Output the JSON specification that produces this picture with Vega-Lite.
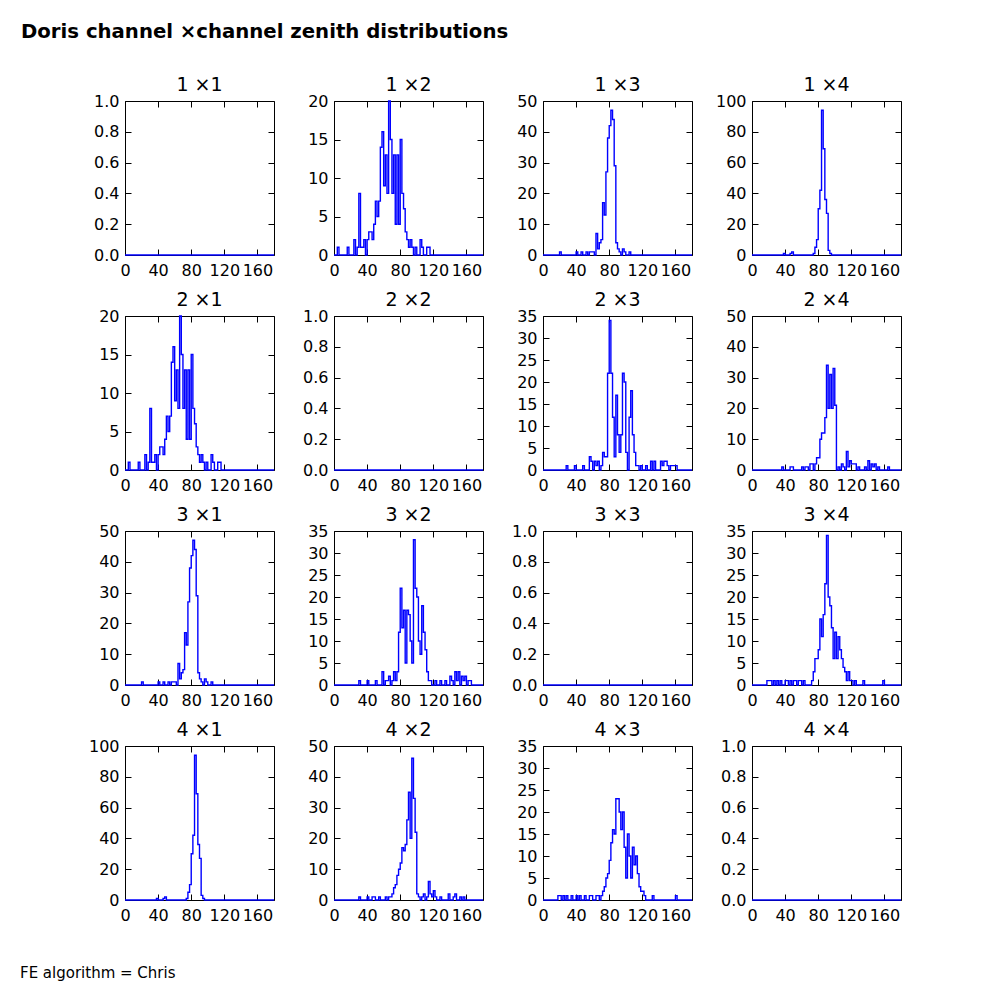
{
"$schema": "https://vega.github.io/schema/vega-lite/v6.json",
"padding": {"left": 20, "top": 22, "right": 10, "bottom": 10},
"title": {"text": "Doris channel ×channel zenith distributions", "anchor": "start", "frame": "group", "fontSize": 19.7, "fontWeight": "bold", "dx": -104, "offset": 34},
"datasets": {"h": [
{"p":"e","x":0,"y":0},{"p":"e","x":180,"y":0},
{"p":"12","x":0,"y":0},{"p":"12","x":4,"y":1},{"p":"12","x":6,"y":0},{"p":"12","x":16,"y":1},{"p":"12","x":18,"y":0},{"p":"12","x":24,"y":2},{"p":"12","x":26,"y":0},{"p":"12","x":28,"y":1},{"p":"12","x":30,"y":8},{"p":"12","x":32,"y":1},{"p":"12","x":34,"y":1},{"p":"12","x":36,"y":2},{"p":"12","x":38,"y":0},{"p":"12","x":40,"y":2},{"p":"12","x":42,"y":3},{"p":"12","x":44,"y":3},{"p":"12","x":46,"y":2},{"p":"12","x":48,"y":4},{"p":"12","x":50,"y":7},{"p":"12","x":52,"y":5},{"p":"12","x":54,"y":7},{"p":"12","x":56,"y":14},{"p":"12","x":58,"y":16},{"p":"12","x":60,"y":9},{"p":"12","x":62,"y":13},{"p":"12","x":64,"y":8},{"p":"12","x":66,"y":20},{"p":"12","x":68,"y":15},{"p":"12","x":70,"y":8},{"p":"12","x":72,"y":13},{"p":"12","x":74,"y":4},{"p":"12","x":76,"y":13},{"p":"12","x":78,"y":4},{"p":"12","x":80,"y":15},{"p":"12","x":82,"y":8},{"p":"12","x":84,"y":6},{"p":"12","x":86,"y":3},{"p":"12","x":88,"y":2},{"p":"12","x":90,"y":1},{"p":"12","x":92,"y":2},{"p":"12","x":94,"y":1},{"p":"12","x":96,"y":0},{"p":"12","x":98,"y":1},{"p":"12","x":100,"y":0},{"p":"12","x":104,"y":2},{"p":"12","x":106,"y":1},{"p":"12","x":108,"y":0},{"p":"12","x":112,"y":1},{"p":"12","x":114,"y":1},{"p":"12","x":116,"y":0},{"p":"12","x":180,"y":0},
{"p":"13","x":0,"y":0},{"p":"13","x":20,"y":1},{"p":"13","x":22,"y":0},{"p":"13","x":40,"y":1},{"p":"13","x":42,"y":0},{"p":"13","x":46,"y":1},{"p":"13","x":48,"y":0},{"p":"13","x":52,"y":1},{"p":"13","x":54,"y":0},{"p":"13","x":56,"y":1},{"p":"13","x":58,"y":1},{"p":"13","x":60,"y":1},{"p":"13","x":62,"y":0},{"p":"13","x":64,"y":7},{"p":"13","x":66,"y":2},{"p":"13","x":68,"y":4},{"p":"13","x":70,"y":5},{"p":"13","x":72,"y":17},{"p":"13","x":74,"y":13},{"p":"13","x":76,"y":27},{"p":"13","x":78,"y":38},{"p":"13","x":80,"y":42},{"p":"13","x":82,"y":47},{"p":"13","x":84,"y":44},{"p":"13","x":86,"y":29},{"p":"13","x":88,"y":4},{"p":"13","x":90,"y":2},{"p":"13","x":92,"y":1},{"p":"13","x":94,"y":0},{"p":"13","x":96,"y":2},{"p":"13","x":98,"y":1},{"p":"13","x":100,"y":0},{"p":"13","x":104,"y":1},{"p":"13","x":106,"y":0},{"p":"13","x":180,"y":0},
{"p":"14","x":0,"y":0},{"p":"14","x":38,"y":1},{"p":"14","x":40,"y":0},{"p":"14","x":46,"y":1},{"p":"14","x":48,"y":2},{"p":"14","x":50,"y":0},{"p":"14","x":74,"y":1},{"p":"14","x":76,"y":5},{"p":"14","x":78,"y":10},{"p":"14","x":80,"y":30},{"p":"14","x":82,"y":42},{"p":"14","x":84,"y":94},{"p":"14","x":86,"y":69},{"p":"14","x":88,"y":36},{"p":"14","x":90,"y":27},{"p":"14","x":92,"y":3},{"p":"14","x":94,"y":1},{"p":"14","x":96,"y":0},{"p":"14","x":180,"y":0},
{"p":"23","x":0,"y":0},{"p":"23","x":28,"y":1},{"p":"23","x":30,"y":0},{"p":"23","x":38,"y":1},{"p":"23","x":40,"y":0},{"p":"23","x":48,"y":1},{"p":"23","x":50,"y":0},{"p":"23","x":56,"y":3},{"p":"23","x":58,"y":2},{"p":"23","x":60,"y":0},{"p":"23","x":62,"y":2},{"p":"23","x":64,"y":1},{"p":"23","x":66,"y":2},{"p":"23","x":68,"y":0},{"p":"23","x":70,"y":1},{"p":"23","x":72,"y":4},{"p":"23","x":74,"y":3},{"p":"23","x":76,"y":3},{"p":"23","x":78,"y":22},{"p":"23","x":80,"y":34},{"p":"23","x":82,"y":22},{"p":"23","x":84,"y":12},{"p":"23","x":86,"y":3},{"p":"23","x":88,"y":17},{"p":"23","x":90,"y":8},{"p":"23","x":92,"y":4},{"p":"23","x":94,"y":8},{"p":"23","x":96,"y":22},{"p":"23","x":98,"y":20},{"p":"23","x":100,"y":4},{"p":"23","x":102,"y":0},{"p":"23","x":104,"y":12},{"p":"23","x":106,"y":18},{"p":"23","x":108,"y":8},{"p":"23","x":110,"y":4},{"p":"23","x":112,"y":1},{"p":"23","x":114,"y":1},{"p":"23","x":116,"y":0},{"p":"23","x":118,"y":1},{"p":"23","x":120,"y":0},{"p":"23","x":124,"y":1},{"p":"23","x":126,"y":0},{"p":"23","x":130,"y":2},{"p":"23","x":132,"y":0},{"p":"23","x":134,"y":2},{"p":"23","x":136,"y":0},{"p":"23","x":142,"y":2},{"p":"23","x":144,"y":1},{"p":"23","x":146,"y":2},{"p":"23","x":148,"y":2},{"p":"23","x":150,"y":1},{"p":"23","x":152,"y":0},{"p":"23","x":154,"y":1},{"p":"23","x":156,"y":1},{"p":"23","x":158,"y":1},{"p":"23","x":160,"y":1},{"p":"23","x":162,"y":0},{"p":"23","x":180,"y":0},
{"p":"32","x":0,"y":0},{"p":"32","x":30,"y":1},{"p":"32","x":32,"y":0},{"p":"32","x":40,"y":1},{"p":"32","x":42,"y":0},{"p":"32","x":50,"y":1},{"p":"32","x":52,"y":0},{"p":"32","x":58,"y":3},{"p":"32","x":60,"y":0},{"p":"32","x":62,"y":1},{"p":"32","x":64,"y":1},{"p":"32","x":66,"y":2},{"p":"32","x":68,"y":0},{"p":"32","x":70,"y":1},{"p":"32","x":72,"y":3},{"p":"32","x":74,"y":1},{"p":"32","x":76,"y":3},{"p":"32","x":78,"y":12},{"p":"32","x":80,"y":22},{"p":"32","x":82,"y":13},{"p":"32","x":84,"y":17},{"p":"32","x":86,"y":5},{"p":"32","x":88,"y":17},{"p":"32","x":90,"y":16},{"p":"32","x":92,"y":10},{"p":"32","x":94,"y":5},{"p":"32","x":96,"y":33},{"p":"32","x":98,"y":22},{"p":"32","x":100,"y":20},{"p":"32","x":102,"y":10},{"p":"32","x":104,"y":7},{"p":"32","x":106,"y":18},{"p":"32","x":108,"y":12},{"p":"32","x":110,"y":8},{"p":"32","x":112,"y":3},{"p":"32","x":114,"y":1},{"p":"32","x":116,"y":1},{"p":"32","x":118,"y":0},{"p":"32","x":122,"y":1},{"p":"32","x":124,"y":0},{"p":"32","x":128,"y":1},{"p":"32","x":130,"y":0},{"p":"32","x":134,"y":1},{"p":"32","x":136,"y":0},{"p":"32","x":140,"y":2},{"p":"32","x":142,"y":1},{"p":"32","x":144,"y":0},{"p":"32","x":146,"y":3},{"p":"32","x":148,"y":1},{"p":"32","x":150,"y":3},{"p":"32","x":152,"y":0},{"p":"32","x":154,"y":2},{"p":"32","x":156,"y":1},{"p":"32","x":158,"y":2},{"p":"32","x":160,"y":0},{"p":"32","x":162,"y":1},{"p":"32","x":164,"y":1},{"p":"32","x":166,"y":0},{"p":"32","x":180,"y":0},
{"p":"24","x":0,"y":0},{"p":"24","x":36,"y":1},{"p":"24","x":38,"y":0},{"p":"24","x":46,"y":1},{"p":"24","x":48,"y":1},{"p":"24","x":50,"y":0},{"p":"24","x":60,"y":1},{"p":"24","x":62,"y":0},{"p":"24","x":64,"y":1},{"p":"24","x":66,"y":1},{"p":"24","x":68,"y":0},{"p":"24","x":70,"y":2},{"p":"24","x":72,"y":2},{"p":"24","x":74,"y":0},{"p":"24","x":76,"y":2},{"p":"24","x":78,"y":4},{"p":"24","x":80,"y":4},{"p":"24","x":82,"y":10},{"p":"24","x":84,"y":12},{"p":"24","x":86,"y":12},{"p":"24","x":88,"y":17},{"p":"24","x":90,"y":34},{"p":"24","x":92,"y":20},{"p":"24","x":94,"y":31},{"p":"24","x":96,"y":20},{"p":"24","x":98,"y":33},{"p":"24","x":100,"y":21},{"p":"24","x":102,"y":0},{"p":"24","x":104,"y":1},{"p":"24","x":106,"y":0},{"p":"24","x":108,"y":2},{"p":"24","x":110,"y":1},{"p":"24","x":112,"y":0},{"p":"24","x":114,"y":6},{"p":"24","x":116,"y":1},{"p":"24","x":118,"y":3},{"p":"24","x":120,"y":2},{"p":"24","x":122,"y":2},{"p":"24","x":124,"y":2},{"p":"24","x":126,"y":0},{"p":"24","x":128,"y":1},{"p":"24","x":130,"y":0},{"p":"24","x":136,"y":1},{"p":"24","x":138,"y":0},{"p":"24","x":140,"y":3},{"p":"24","x":142,"y":0},{"p":"24","x":144,"y":2},{"p":"24","x":146,"y":1},{"p":"24","x":148,"y":2},{"p":"24","x":150,"y":0},{"p":"24","x":152,"y":1},{"p":"24","x":154,"y":0},{"p":"24","x":164,"y":1},{"p":"24","x":166,"y":0},{"p":"24","x":180,"y":0},
{"p":"42","x":0,"y":0},{"p":"42","x":30,"y":1},{"p":"42","x":32,"y":0},{"p":"42","x":40,"y":1},{"p":"42","x":42,"y":0},{"p":"42","x":46,"y":1},{"p":"42","x":48,"y":1},{"p":"42","x":50,"y":0},{"p":"42","x":54,"y":1},{"p":"42","x":56,"y":0},{"p":"42","x":62,"y":1},{"p":"42","x":64,"y":0},{"p":"42","x":66,"y":1},{"p":"42","x":68,"y":1},{"p":"42","x":70,"y":2},{"p":"42","x":72,"y":4},{"p":"42","x":74,"y":5},{"p":"42","x":76,"y":8},{"p":"42","x":78,"y":10},{"p":"42","x":80,"y":12},{"p":"42","x":82,"y":17},{"p":"42","x":84,"y":16},{"p":"42","x":86,"y":18},{"p":"42","x":88,"y":26},{"p":"42","x":90,"y":35},{"p":"42","x":92,"y":20},{"p":"42","x":94,"y":46},{"p":"42","x":96,"y":33},{"p":"42","x":98,"y":22},{"p":"42","x":100,"y":2},{"p":"42","x":102,"y":1},{"p":"42","x":104,"y":0},{"p":"42","x":106,"y":1},{"p":"42","x":108,"y":2},{"p":"42","x":110,"y":0},{"p":"42","x":112,"y":1},{"p":"42","x":114,"y":6},{"p":"42","x":116,"y":2},{"p":"42","x":118,"y":1},{"p":"42","x":120,"y":3},{"p":"42","x":122,"y":1},{"p":"42","x":124,"y":0},{"p":"42","x":128,"y":1},{"p":"42","x":130,"y":0},{"p":"42","x":138,"y":2},{"p":"42","x":140,"y":0},{"p":"42","x":144,"y":1},{"p":"42","x":146,"y":2},{"p":"42","x":148,"y":0},{"p":"42","x":152,"y":1},{"p":"42","x":154,"y":0},{"p":"42","x":156,"y":1},{"p":"42","x":158,"y":0},{"p":"42","x":180,"y":0},
{"p":"34","x":0,"y":0},{"p":"34","x":18,"y":1},{"p":"34","x":20,"y":1},{"p":"34","x":22,"y":1},{"p":"34","x":24,"y":0},{"p":"34","x":26,"y":1},{"p":"34","x":28,"y":0},{"p":"34","x":30,"y":1},{"p":"34","x":32,"y":0},{"p":"34","x":34,"y":1},{"p":"34","x":36,"y":0},{"p":"34","x":40,"y":1},{"p":"34","x":42,"y":1},{"p":"34","x":44,"y":0},{"p":"34","x":46,"y":1},{"p":"34","x":48,"y":0},{"p":"34","x":50,"y":1},{"p":"34","x":52,"y":1},{"p":"34","x":54,"y":0},{"p":"34","x":56,"y":1},{"p":"34","x":58,"y":1},{"p":"34","x":60,"y":0},{"p":"34","x":62,"y":1},{"p":"34","x":64,"y":0},{"p":"34","x":72,"y":1},{"p":"34","x":74,"y":3},{"p":"34","x":76,"y":6},{"p":"34","x":78,"y":6},{"p":"34","x":80,"y":8},{"p":"34","x":82,"y":15},{"p":"34","x":84,"y":11},{"p":"34","x":86,"y":16},{"p":"34","x":88,"y":23},{"p":"34","x":90,"y":34},{"p":"34","x":92,"y":20},{"p":"34","x":94,"y":18},{"p":"34","x":96,"y":13},{"p":"34","x":98,"y":6},{"p":"34","x":100,"y":12},{"p":"34","x":102,"y":6},{"p":"34","x":104,"y":11},{"p":"34","x":106,"y":8},{"p":"34","x":108,"y":6},{"p":"34","x":110,"y":4},{"p":"34","x":112,"y":3},{"p":"34","x":114,"y":1},{"p":"34","x":116,"y":3},{"p":"34","x":118,"y":1},{"p":"34","x":120,"y":1},{"p":"34","x":122,"y":0},{"p":"34","x":124,"y":1},{"p":"34","x":126,"y":0},{"p":"34","x":134,"y":1},{"p":"34","x":136,"y":0},{"p":"34","x":158,"y":1},{"p":"34","x":160,"y":0},{"p":"34","x":180,"y":0},
{"p":"43","x":0,"y":0},{"p":"43","x":18,"y":1},{"p":"43","x":20,"y":1},{"p":"43","x":22,"y":0},{"p":"43","x":24,"y":1},{"p":"43","x":26,"y":0},{"p":"43","x":28,"y":1},{"p":"43","x":30,"y":0},{"p":"43","x":34,"y":1},{"p":"43","x":36,"y":0},{"p":"43","x":40,"y":1},{"p":"43","x":42,"y":0},{"p":"43","x":44,"y":1},{"p":"43","x":46,"y":0},{"p":"43","x":50,"y":1},{"p":"43","x":52,"y":0},{"p":"43","x":56,"y":1},{"p":"43","x":58,"y":1},{"p":"43","x":60,"y":0},{"p":"43","x":64,"y":1},{"p":"43","x":66,"y":1},{"p":"43","x":68,"y":0},{"p":"43","x":70,"y":1},{"p":"43","x":72,"y":2},{"p":"43","x":74,"y":3},{"p":"43","x":76,"y":5},{"p":"43","x":78,"y":6},{"p":"43","x":80,"y":9},{"p":"43","x":82,"y":13},{"p":"43","x":84,"y":16},{"p":"43","x":86,"y":15},{"p":"43","x":88,"y":23},{"p":"43","x":90,"y":23},{"p":"43","x":92,"y":20},{"p":"43","x":94,"y":16},{"p":"43","x":96,"y":20},{"p":"43","x":98,"y":12},{"p":"43","x":100,"y":5},{"p":"43","x":102,"y":15},{"p":"43","x":104,"y":10},{"p":"43","x":106,"y":5},{"p":"43","x":108,"y":12},{"p":"43","x":110,"y":8},{"p":"43","x":112,"y":10},{"p":"43","x":114,"y":6},{"p":"43","x":116,"y":3},{"p":"43","x":118,"y":2},{"p":"43","x":120,"y":2},{"p":"43","x":122,"y":1},{"p":"43","x":124,"y":0},{"p":"43","x":132,"y":1},{"p":"43","x":134,"y":0},{"p":"43","x":160,"y":1},{"p":"43","x":162,"y":0},{"p":"43","x":180,"y":0}
]},
"data": {"name": "h"},
"vconcat": [{
"title": {"text": "FE algorithm = Chris", "orient": "bottom", "anchor": "start", "frame": "group", "fontSize": 15, "fontWeight": "normal", "dx": -105, "offset": 43},
"columns": 4,
"spacing": {"row": 61, "column": 60},
"bounds": "flush",
"concat": [
{"title": "1  ×1", "width": 149, "height": 154, "transform": [{"filter": "datum.p==='e'"}], "layer": [
 {"mark": "line", "encoding": {"x": {"field": "x", "type": "quantitative", "scale": {"domain": [0,180], "nice": false}, "axis": {"values": [0,40,80,120,160], "title": null}}, "y": {"field": "y", "type": "quantitative", "scale": {"domain": [0,1], "nice": false}, "axis": {"title": null, "format": ".1f"}}}},
 {"mark": {"type": "line", "opacity": 0}, "encoding": {"x": {"field": "x", "type": "quantitative", "scale": {"domain": [0,180], "nice": false}, "axis": {"orient": "top", "values": [0,40,80,120,160], "title": null}}, "y": {"field": "y", "type": "quantitative", "scale": {"domain": [0,1], "nice": false}, "axis": {"orient": "right", "title": null}}}}
], "resolve": {"axis": {"x": "independent", "y": "independent"}}},
{"title": "1  ×2", "width": 149, "height": 154, "transform": [{"filter": "datum.p==='12'"}], "layer": [
 {"mark": "line", "encoding": {"x": {"field": "x", "type": "quantitative", "scale": {"domain": [0,180], "nice": false}, "axis": {"values": [0,40,80,120,160], "title": null}}, "y": {"field": "y", "type": "quantitative", "scale": {"domain": [0,20], "nice": false}, "axis": {"title": null}}}},
 {"mark": {"type": "line", "opacity": 0}, "encoding": {"x": {"field": "x", "type": "quantitative", "scale": {"domain": [0,180], "nice": false}, "axis": {"orient": "top", "values": [0,40,80,120,160], "title": null}}, "y": {"field": "y", "type": "quantitative", "scale": {"domain": [0,20], "nice": false}, "axis": {"orient": "right", "title": null}}}}
], "resolve": {"axis": {"x": "independent", "y": "independent"}}},
{"title": "1  ×3", "width": 149, "height": 154, "transform": [{"filter": "datum.p==='13'"}], "layer": [
 {"mark": "line", "encoding": {"x": {"field": "x", "type": "quantitative", "scale": {"domain": [0,180], "nice": false}, "axis": {"values": [0,40,80,120,160], "title": null}}, "y": {"field": "y", "type": "quantitative", "scale": {"domain": [0,50], "nice": false}, "axis": {"title": null}}}},
 {"mark": {"type": "line", "opacity": 0}, "encoding": {"x": {"field": "x", "type": "quantitative", "scale": {"domain": [0,180], "nice": false}, "axis": {"orient": "top", "values": [0,40,80,120,160], "title": null}}, "y": {"field": "y", "type": "quantitative", "scale": {"domain": [0,50], "nice": false}, "axis": {"orient": "right", "title": null}}}}
], "resolve": {"axis": {"x": "independent", "y": "independent"}}},
{"title": "1  ×4", "width": 149, "height": 154, "transform": [{"filter": "datum.p==='14'"}], "layer": [
 {"mark": "line", "encoding": {"x": {"field": "x", "type": "quantitative", "scale": {"domain": [0,180], "nice": false}, "axis": {"values": [0,40,80,120,160], "title": null}}, "y": {"field": "y", "type": "quantitative", "scale": {"domain": [0,100], "nice": false}, "axis": {"title": null}}}},
 {"mark": {"type": "line", "opacity": 0}, "encoding": {"x": {"field": "x", "type": "quantitative", "scale": {"domain": [0,180], "nice": false}, "axis": {"orient": "top", "values": [0,40,80,120,160], "title": null}}, "y": {"field": "y", "type": "quantitative", "scale": {"domain": [0,100], "nice": false}, "axis": {"orient": "right", "title": null}}}}
], "resolve": {"axis": {"x": "independent", "y": "independent"}}},
{"title": "2  ×1", "width": 149, "height": 154, "transform": [{"filter": "datum.p==='12'"}], "layer": [
 {"mark": "line", "encoding": {"x": {"field": "x", "type": "quantitative", "scale": {"domain": [0,180], "nice": false}, "axis": {"values": [0,40,80,120,160], "title": null}}, "y": {"field": "y", "type": "quantitative", "scale": {"domain": [0,20], "nice": false}, "axis": {"title": null}}}},
 {"mark": {"type": "line", "opacity": 0}, "encoding": {"x": {"field": "x", "type": "quantitative", "scale": {"domain": [0,180], "nice": false}, "axis": {"orient": "top", "values": [0,40,80,120,160], "title": null}}, "y": {"field": "y", "type": "quantitative", "scale": {"domain": [0,20], "nice": false}, "axis": {"orient": "right", "title": null}}}}
], "resolve": {"axis": {"x": "independent", "y": "independent"}}},
{"title": "2  ×2", "width": 149, "height": 154, "transform": [{"filter": "datum.p==='e'"}], "layer": [
 {"mark": "line", "encoding": {"x": {"field": "x", "type": "quantitative", "scale": {"domain": [0,180], "nice": false}, "axis": {"values": [0,40,80,120,160], "title": null}}, "y": {"field": "y", "type": "quantitative", "scale": {"domain": [0,1], "nice": false}, "axis": {"title": null, "format": ".1f"}}}},
 {"mark": {"type": "line", "opacity": 0}, "encoding": {"x": {"field": "x", "type": "quantitative", "scale": {"domain": [0,180], "nice": false}, "axis": {"orient": "top", "values": [0,40,80,120,160], "title": null}}, "y": {"field": "y", "type": "quantitative", "scale": {"domain": [0,1], "nice": false}, "axis": {"orient": "right", "title": null}}}}
], "resolve": {"axis": {"x": "independent", "y": "independent"}}},
{"title": "2  ×3", "width": 149, "height": 154, "transform": [{"filter": "datum.p==='23'"}], "layer": [
 {"mark": "line", "encoding": {"x": {"field": "x", "type": "quantitative", "scale": {"domain": [0,180], "nice": false}, "axis": {"values": [0,40,80,120,160], "title": null}}, "y": {"field": "y", "type": "quantitative", "scale": {"domain": [0,35], "nice": false}, "axis": {"title": null}}}},
 {"mark": {"type": "line", "opacity": 0}, "encoding": {"x": {"field": "x", "type": "quantitative", "scale": {"domain": [0,180], "nice": false}, "axis": {"orient": "top", "values": [0,40,80,120,160], "title": null}}, "y": {"field": "y", "type": "quantitative", "scale": {"domain": [0,35], "nice": false}, "axis": {"orient": "right", "title": null}}}}
], "resolve": {"axis": {"x": "independent", "y": "independent"}}},
{"title": "2  ×4", "width": 149, "height": 154, "transform": [{"filter": "datum.p==='24'"}], "layer": [
 {"mark": "line", "encoding": {"x": {"field": "x", "type": "quantitative", "scale": {"domain": [0,180], "nice": false}, "axis": {"values": [0,40,80,120,160], "title": null}}, "y": {"field": "y", "type": "quantitative", "scale": {"domain": [0,50], "nice": false}, "axis": {"title": null}}}},
 {"mark": {"type": "line", "opacity": 0}, "encoding": {"x": {"field": "x", "type": "quantitative", "scale": {"domain": [0,180], "nice": false}, "axis": {"orient": "top", "values": [0,40,80,120,160], "title": null}}, "y": {"field": "y", "type": "quantitative", "scale": {"domain": [0,50], "nice": false}, "axis": {"orient": "right", "title": null}}}}
], "resolve": {"axis": {"x": "independent", "y": "independent"}}},
{"title": "3  ×1", "width": 149, "height": 154, "transform": [{"filter": "datum.p==='13'"}], "layer": [
 {"mark": "line", "encoding": {"x": {"field": "x", "type": "quantitative", "scale": {"domain": [0,180], "nice": false}, "axis": {"values": [0,40,80,120,160], "title": null}}, "y": {"field": "y", "type": "quantitative", "scale": {"domain": [0,50], "nice": false}, "axis": {"title": null}}}},
 {"mark": {"type": "line", "opacity": 0}, "encoding": {"x": {"field": "x", "type": "quantitative", "scale": {"domain": [0,180], "nice": false}, "axis": {"orient": "top", "values": [0,40,80,120,160], "title": null}}, "y": {"field": "y", "type": "quantitative", "scale": {"domain": [0,50], "nice": false}, "axis": {"orient": "right", "title": null}}}}
], "resolve": {"axis": {"x": "independent", "y": "independent"}}},
{"title": "3  ×2", "width": 149, "height": 154, "transform": [{"filter": "datum.p==='32'"}], "layer": [
 {"mark": "line", "encoding": {"x": {"field": "x", "type": "quantitative", "scale": {"domain": [0,180], "nice": false}, "axis": {"values": [0,40,80,120,160], "title": null}}, "y": {"field": "y", "type": "quantitative", "scale": {"domain": [0,35], "nice": false}, "axis": {"title": null}}}},
 {"mark": {"type": "line", "opacity": 0}, "encoding": {"x": {"field": "x", "type": "quantitative", "scale": {"domain": [0,180], "nice": false}, "axis": {"orient": "top", "values": [0,40,80,120,160], "title": null}}, "y": {"field": "y", "type": "quantitative", "scale": {"domain": [0,35], "nice": false}, "axis": {"orient": "right", "title": null}}}}
], "resolve": {"axis": {"x": "independent", "y": "independent"}}},
{"title": "3  ×3", "width": 149, "height": 154, "transform": [{"filter": "datum.p==='e'"}], "layer": [
 {"mark": "line", "encoding": {"x": {"field": "x", "type": "quantitative", "scale": {"domain": [0,180], "nice": false}, "axis": {"values": [0,40,80,120,160], "title": null}}, "y": {"field": "y", "type": "quantitative", "scale": {"domain": [0,1], "nice": false}, "axis": {"title": null, "format": ".1f"}}}},
 {"mark": {"type": "line", "opacity": 0}, "encoding": {"x": {"field": "x", "type": "quantitative", "scale": {"domain": [0,180], "nice": false}, "axis": {"orient": "top", "values": [0,40,80,120,160], "title": null}}, "y": {"field": "y", "type": "quantitative", "scale": {"domain": [0,1], "nice": false}, "axis": {"orient": "right", "title": null}}}}
], "resolve": {"axis": {"x": "independent", "y": "independent"}}},
{"title": "3  ×4", "width": 149, "height": 154, "transform": [{"filter": "datum.p==='34'"}], "layer": [
 {"mark": "line", "encoding": {"x": {"field": "x", "type": "quantitative", "scale": {"domain": [0,180], "nice": false}, "axis": {"values": [0,40,80,120,160], "title": null}}, "y": {"field": "y", "type": "quantitative", "scale": {"domain": [0,35], "nice": false}, "axis": {"title": null}}}},
 {"mark": {"type": "line", "opacity": 0}, "encoding": {"x": {"field": "x", "type": "quantitative", "scale": {"domain": [0,180], "nice": false}, "axis": {"orient": "top", "values": [0,40,80,120,160], "title": null}}, "y": {"field": "y", "type": "quantitative", "scale": {"domain": [0,35], "nice": false}, "axis": {"orient": "right", "title": null}}}}
], "resolve": {"axis": {"x": "independent", "y": "independent"}}},
{"title": "4  ×1", "width": 149, "height": 154, "transform": [{"filter": "datum.p==='14'"}], "layer": [
 {"mark": "line", "encoding": {"x": {"field": "x", "type": "quantitative", "scale": {"domain": [0,180], "nice": false}, "axis": {"values": [0,40,80,120,160], "title": null}}, "y": {"field": "y", "type": "quantitative", "scale": {"domain": [0,100], "nice": false}, "axis": {"title": null}}}},
 {"mark": {"type": "line", "opacity": 0}, "encoding": {"x": {"field": "x", "type": "quantitative", "scale": {"domain": [0,180], "nice": false}, "axis": {"orient": "top", "values": [0,40,80,120,160], "title": null}}, "y": {"field": "y", "type": "quantitative", "scale": {"domain": [0,100], "nice": false}, "axis": {"orient": "right", "title": null}}}}
], "resolve": {"axis": {"x": "independent", "y": "independent"}}},
{"title": "4  ×2", "width": 149, "height": 154, "transform": [{"filter": "datum.p==='42'"}], "layer": [
 {"mark": "line", "encoding": {"x": {"field": "x", "type": "quantitative", "scale": {"domain": [0,180], "nice": false}, "axis": {"values": [0,40,80,120,160], "title": null}}, "y": {"field": "y", "type": "quantitative", "scale": {"domain": [0,50], "nice": false}, "axis": {"title": null}}}},
 {"mark": {"type": "line", "opacity": 0}, "encoding": {"x": {"field": "x", "type": "quantitative", "scale": {"domain": [0,180], "nice": false}, "axis": {"orient": "top", "values": [0,40,80,120,160], "title": null}}, "y": {"field": "y", "type": "quantitative", "scale": {"domain": [0,50], "nice": false}, "axis": {"orient": "right", "title": null}}}}
], "resolve": {"axis": {"x": "independent", "y": "independent"}}},
{"title": "4  ×3", "width": 149, "height": 154, "transform": [{"filter": "datum.p==='43'"}], "layer": [
 {"mark": "line", "encoding": {"x": {"field": "x", "type": "quantitative", "scale": {"domain": [0,180], "nice": false}, "axis": {"values": [0,40,80,120,160], "title": null}}, "y": {"field": "y", "type": "quantitative", "scale": {"domain": [0,35], "nice": false}, "axis": {"title": null}}}},
 {"mark": {"type": "line", "opacity": 0}, "encoding": {"x": {"field": "x", "type": "quantitative", "scale": {"domain": [0,180], "nice": false}, "axis": {"orient": "top", "values": [0,40,80,120,160], "title": null}}, "y": {"field": "y", "type": "quantitative", "scale": {"domain": [0,35], "nice": false}, "axis": {"orient": "right", "title": null}}}}
], "resolve": {"axis": {"x": "independent", "y": "independent"}}},
{"title": "4  ×4", "width": 149, "height": 154, "transform": [{"filter": "datum.p==='e'"}], "layer": [
 {"mark": "line", "encoding": {"x": {"field": "x", "type": "quantitative", "scale": {"domain": [0,180], "nice": false}, "axis": {"values": [0,40,80,120,160], "title": null}}, "y": {"field": "y", "type": "quantitative", "scale": {"domain": [0,1], "nice": false}, "axis": {"title": null, "format": ".1f"}}}},
 {"mark": {"type": "line", "opacity": 0}, "encoding": {"x": {"field": "x", "type": "quantitative", "scale": {"domain": [0,180], "nice": false}, "axis": {"orient": "top", "values": [0,40,80,120,160], "title": null}}, "y": {"field": "y", "type": "quantitative", "scale": {"domain": [0,1], "nice": false}, "axis": {"orient": "right", "title": null}}}}
], "resolve": {"axis": {"x": "independent", "y": "independent"}}}
]
}],
"config": {
 "view": {"stroke": null},
 "font": "DejaVu Sans",
 "axis": {"domainColor": "#000000", "domainWidth": 1, "tickColor": "#000000", "tickWidth": 1, "tickSize": -6, "labelFont": "DejaVu Sans", "labelFontSize": 16, "labelColor": "#000000", "grid": false, "labelPadding": 12, "tickCount": 6, "labelFlush": false, "labelOverlap": false},
 "axisX": {"labelPadding": 13},
 "axisTop": {"labels": false},
 "axisRight": {"labels": false},
 "title": {"font": "DejaVu Sans", "fontSize": 19, "fontWeight": "normal", "color": "#000000", "offset": -2},
 "line": {"interpolate": "step-after", "color": "#0000ff", "strokeWidth": 1.4}
}
}
